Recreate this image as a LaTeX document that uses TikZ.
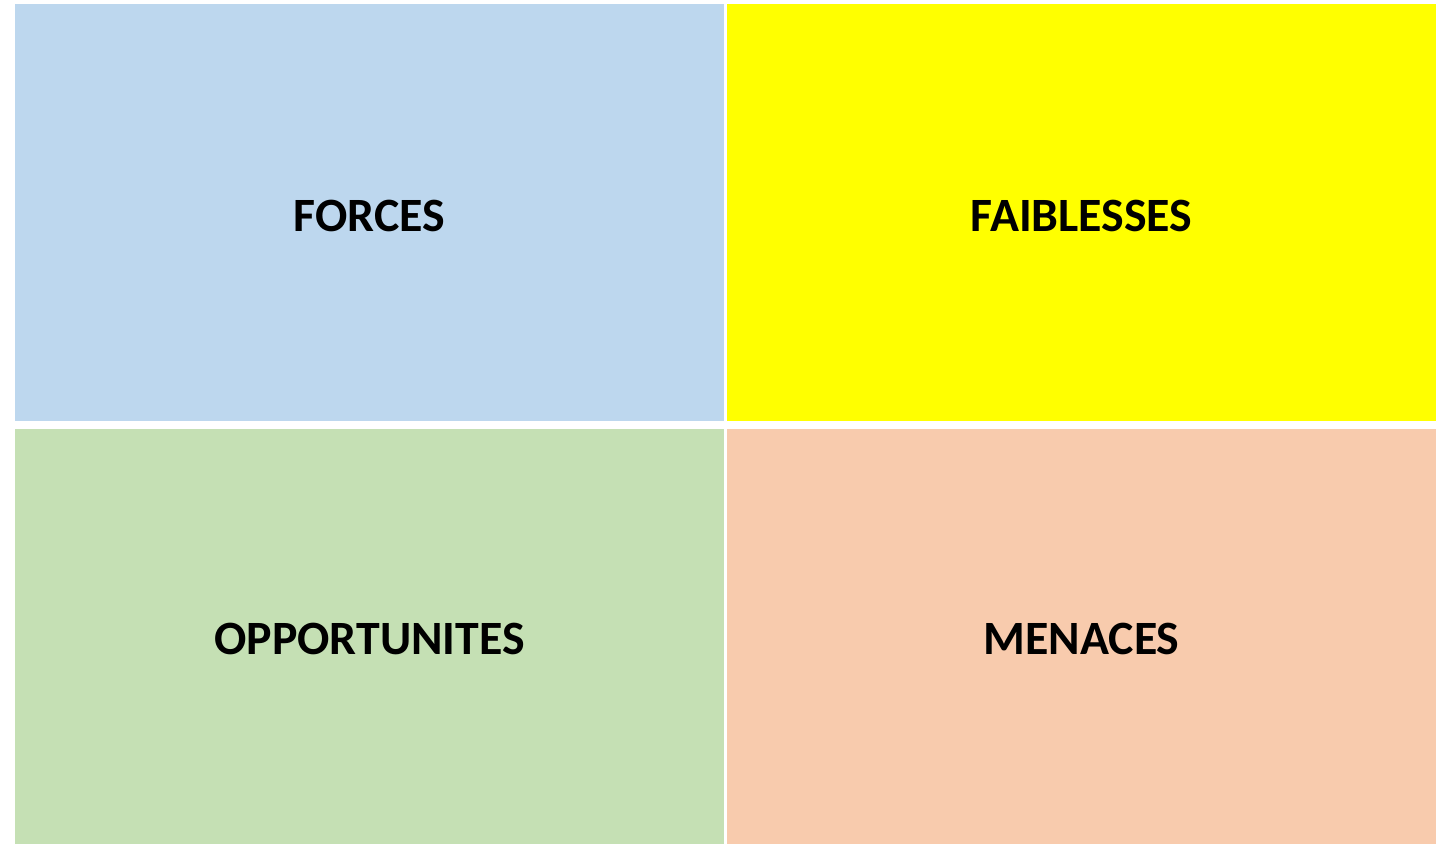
\documentclass[tikz,border=0pt]{standalone}
\usepackage{fontspec}
\setmainfont{Carlito}
\definecolor{cblue}{HTML}{BDD7EE}
\definecolor{cyellow}{HTML}{FFFF00}
\definecolor{cgreen}{HTML}{C5E0B4}
\definecolor{cpeach}{HTML}{F8CBAD}
\begin{document}
\begin{tikzpicture}[x=1bp,y=-1bp,
  quad/.style={inner sep=0pt,outer sep=0pt},
  lbl/.style={font=\fontsize{48}{58}\selectfont\bfseries,anchor=base,inner sep=0pt}]
\useasboundingbox[fill=white] (0,0) rectangle (1445,844);
\fill[cblue] (15,4) rectangle (724,421);
\fill[cyellow] (727,4) rectangle (1436,421);
\fill[cgreen] (15,429) rectangle (724,844);
\fill[cpeach] (727,429) rectangle (1436,844);
\coordinate (f) at (369.5,231);
\coordinate (w) at (1081.5,231);
\coordinate (o) at (369.5,654);
\coordinate (t) at (1081.5,654);
\node[lbl] (nf) at (f) {FORCES};
\node[lbl] (nw) at (w) {FAIBLESSES};
\node[lbl] (no) at (o) {OPPORTUNITES};
\node[lbl] (nt) at (t) {MENACES};
\end{tikzpicture}
\end{document}
